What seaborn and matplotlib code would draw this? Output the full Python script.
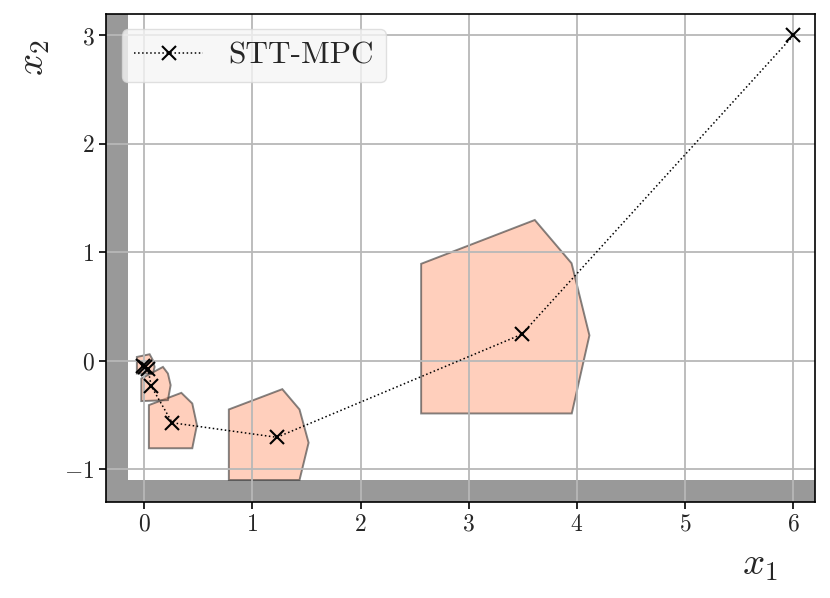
import numpy as np
import pandas as pd
import matplotlib
matplotlib.use("Agg")
import matplotlib.pyplot as plt
import seaborn as sns

# Closed-loop trajectory (x1, x2)
traj_x1 = [6.0, 3.49, 1.227, 0.26, 0.066, 0.035, 0.01, -0.01]
traj_x2 = [3.0, 0.244, -0.706, -0.572, -0.235, -0.072, -0.06, -0.05]

# Tube sets (polygon vertices), largest first
poly_x1 = [
    [2.56, 3.61, 3.95, 4.115, 3.952, 2.56],
    [0.783, 1.277, 1.436, 1.52, 1.436, 0.783],
    [0.044, 0.344, 0.445, 0.488, 0.445, 0.044],
    [-0.026, 0.174, 0.22, 0.245, 0.22, -0.026],
    [-0.067, 0.051, 0.081, 0.097, 0.081, -0.067],
]
poly_x2 = [
    [0.894, 1.298, 0.899, 0.234, -0.486, -0.486],
    [-0.449, -0.262, -0.449, -0.756, -1.1, -1.1],
    [-0.409, -0.296, -0.394, -0.593, -0.807, -0.807],
    [-0.164, -0.057, -0.118, -0.225, -0.363, -0.372],
    [0.035, 0.06, 0.005, -0.057, -0.118, -0.118],
]

# State constraints
x1_min = -0.15
x2_min = -1.1

sns.set_style("whitegrid")
plt.rcParams["font.family"] = "serif"
plt.rcParams["font.serif"] = ["cmr10"]
plt.rcParams["mathtext.fontset"] = "cm"
plt.rcParams["axes.formatter.use_mathtext"] = True

fig = plt.figure(figsize=(8.3, 5.98), dpi=100)
ax = fig.add_axes([0.128, 0.161, 0.854, 0.816])

ax.set_xlim(-0.35, 6.2)
ax.set_ylim(-1.3, 3.2)

# infeasible region
ax.axvspan(-0.35, x1_min, color="0.6", lw=0, zorder=0.1)
ax.axhspan(-1.3, x2_min, color="0.6", lw=0, zorder=0.1)

for px, py in zip(poly_x1, poly_x2):
    ax.fill(px, py, facecolor=(1.0, 0.627, 0.478, 0.5), edgecolor=(0.2, 0.2, 0.2, 0.6),
            lw=1.4, zorder=0.3)

df = pd.DataFrame({"x1": traj_x1, "x2": traj_x2})
sns.lineplot(data=df, x="x1", y="x2", sort=False, ax=ax, color="k", ls=":", lw=1.1,
             marker="x", markersize=10, markeredgewidth=1.5, markeredgecolor="k",
             label="STT-MPC", zorder=3)

ax.grid(True, color="0.72", lw=1.3, zorder=0.5)
ax.set_axisbelow(True)
for s in ax.spines.values():
    s.set_color("k")
    s.set_linewidth(1.2)
ax.tick_params(axis="both", which="major", labelsize=17, length=5, width=1.2,
               color="k", direction="out", bottom=True, left=True)
ax.set_xticks(range(0, 7))
ax.set_yticks(range(-1, 4))

ax.set_xlabel("$x_1$", fontsize=28)
ax.xaxis.set_label_coords(0.922, -0.094)
ax.set_ylabel("$x_2$", fontsize=28)
ax.yaxis.set_label_coords(-0.076, 0.91)

leg = ax.legend(loc="upper left", fontsize=22.5, frameon=True, fancybox=True,
                handlelength=2.2, borderaxespad=0.5)
leg.get_frame().set_facecolor("0.96")
leg.get_frame().set_edgecolor("0.85")

fig.savefig("out.png", dpi=100)
